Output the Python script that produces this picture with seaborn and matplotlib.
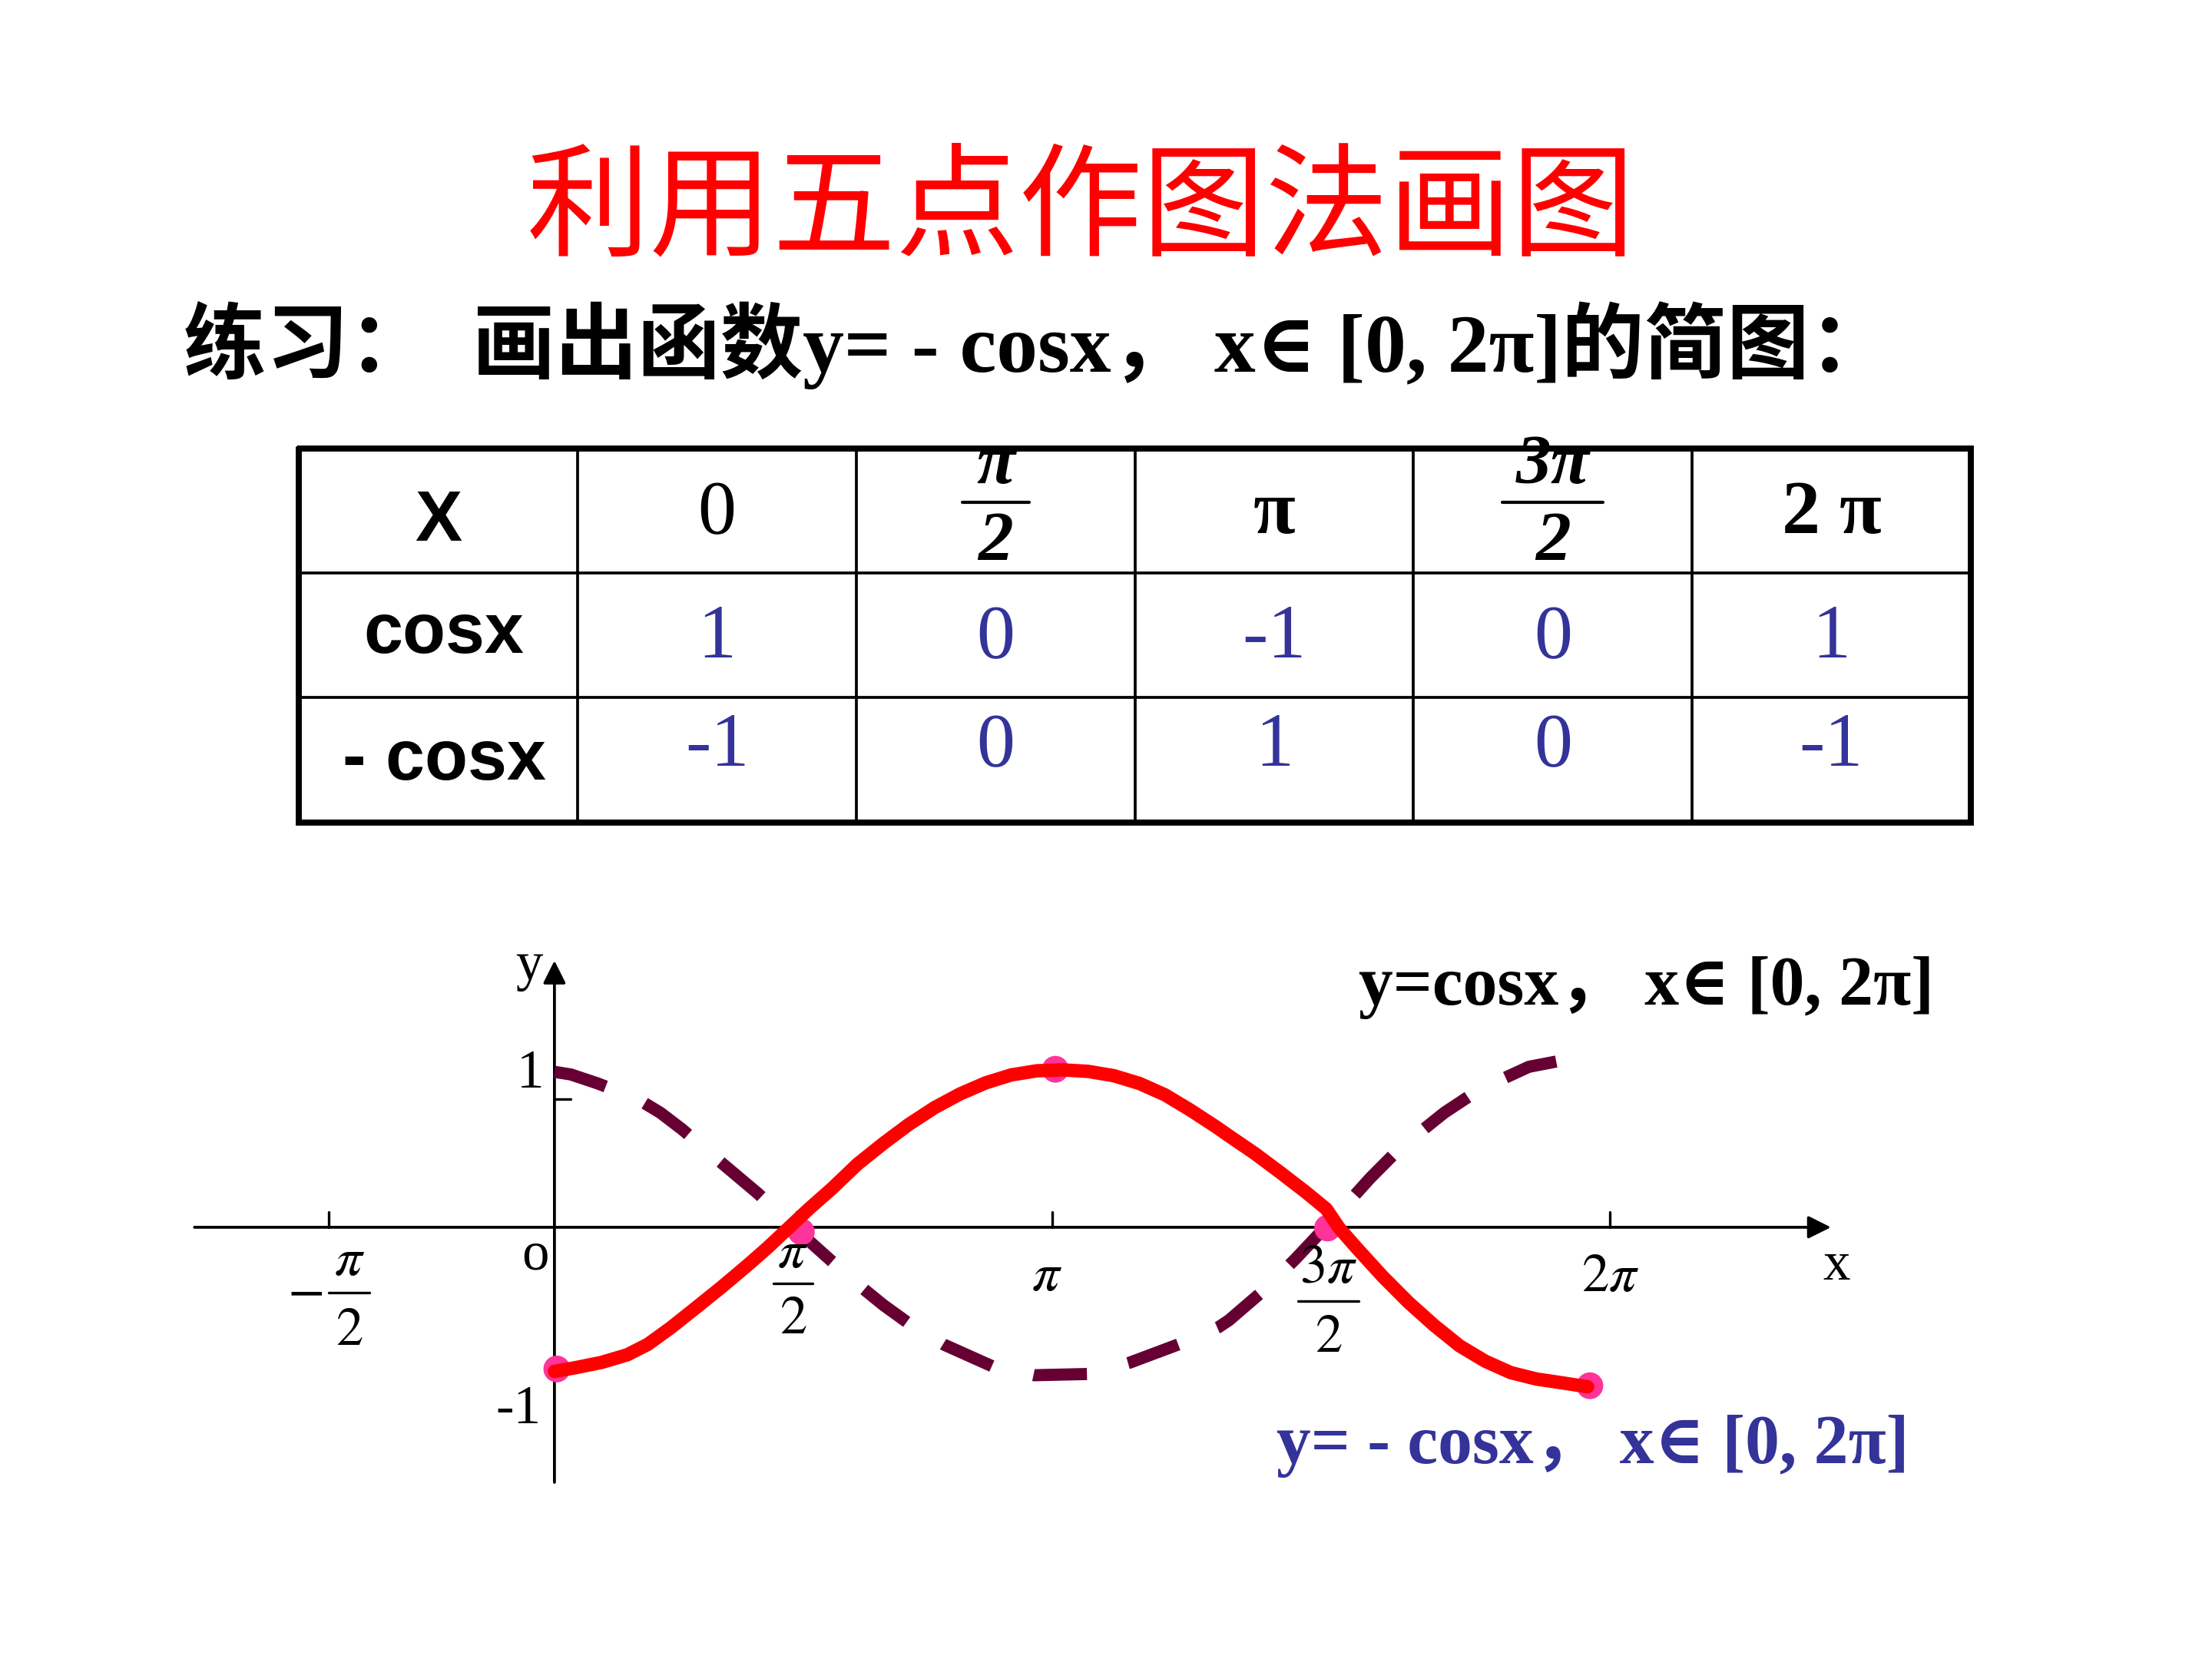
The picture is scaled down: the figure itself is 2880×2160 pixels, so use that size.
import matplotlib
matplotlib.use("Agg")
import matplotlib.pyplot as plt
import seaborn as sns

# five-point table
row_labels = ["X", "cosx", "- cosx"]
header_vals = ["0", ("π", "2"), "π", ("3π", "2"), "2 π"]
cos_vals = ["1", "0", "-1", "0", "1"]
neg_cos_vals = ["-1", "0", "1", "0", "-1"]

# hand drawn curves (x in rad)
cos_x = [0.0, 0.103, 0.273, 0.523, 0.669, 0.806, 1.024, 1.283, 1.605, 1.751, 1.944,
         2.074, 2.227, 2.454, 2.761, 3.026, 3.366, 3.632, 3.955, 4.189, 4.254, 4.480,
         4.674, 4.948, 5.142, 5.328, 5.611, 5.830, 6.145, 6.354, 6.48]
cos_y = [1.02, 1.003, 0.944, 0.843, 0.751, 0.642, 0.449, 0.222, -0.089, -0.225, -0.40,
         -0.51, -0.625, -0.769, -0.912, -0.971, -0.963, -0.887, -0.761, -0.655, -0.61, -0.408,
         -0.207, 0.096, 0.320, 0.515, 0.751, 0.902, 1.053, 1.095, 1.12]
neg_x = [0.0, 0.136, 0.297, 0.459, 0.588, 0.733, 0.895, 1.056, 1.218, 1.347, 1.476,
         1.605, 1.751, 1.912, 2.074, 2.235, 2.397, 2.558, 2.720, 2.881, 3.043, 3.204,
         3.366, 3.527, 3.689, 3.851, 4.012, 4.174, 4.254, 4.416, 4.577, 4.739, 4.868,
         4.949, 5.062, 5.224, 5.385, 5.547, 5.708, 5.870, 6.031, 6.193, 6.355, 6.516]
neg_y = [-0.946, -0.921, -0.887, -0.837, -0.769, -0.660, -0.526, -0.391, -0.249, -0.131, -0.005,
         0.121, 0.255, 0.415, 0.55, 0.675, 0.785, 0.875, 0.948, 1.0, 1.027, 1.033,
         1.023, 0.995, 0.944, 0.869, 0.768, 0.658, 0.600, 0.485, 0.36, 0.23, 0.12,
         -0.005, -0.139, -0.324, -0.492, -0.643, -0.778, -0.879, -0.954, -0.996, -1.021, -1.047]
key_x = [0.015, 1.557, 3.159, 4.876, 6.53]
key_y = [-0.93, -0.03, 1.037, -0.005, -1.04]

# x ticks (positions as drawn in the picture)
xtick_pos = [-1.424, 1.528, 3.139, 4.859, 6.655]

sns.set_theme(style="white")
plt.rcParams["mathtext.fontset"] = "stix"
plt.rcParams["text.color"] = "black"
CJK = ["Noto Sans CJK SC", "DejaVu Sans"]
SERIF = ["Liberation Serif", "DejaVu Serif", "Noto Sans CJK SC"]
SANS = ["Liberation Sans", "DejaVu Sans"]
plt.rcParams["font.family"] = SERIF

BLUE = "#333399"

fig = plt.figure(figsize=(9.6, 7.2), dpi=300)
fig.patch.set_facecolor("white")

fig.text(0.4885, 0.8725, "利用五点作图法画图", color="#FF0000", fontsize=38.5,
         ha="center", va="center", family=CJK)
fig.text(0.0829, 0.7917, "练习：  画出函数y= - cosx， x∈ [0, 2π]的简图：",
         fontsize=25.8, weight="bold", family=SERIF, ha="left", va="center")

# ---- table ----
tax = fig.add_axes([0.1352, 0.5043, 0.7557, 0.2253])
tax.set_xlim(0, 6)
tax.set_ylim(3, 0)
tax.axis("off")
for i in range(1, 6):
    tax.plot([i, i], [0, 3], color="black", lw=0.9, clip_on=False)
for j in range(1, 3):
    tax.plot([0, 6], [j, j], color="black", lw=0.9, clip_on=False)
tax.plot([0, 6, 6, 0, 0], [0, 0, 3, 3, 0], color="black", lw=1.9,
         solid_joinstyle="miter", clip_on=False)

tax.text(0.5, 0.59, row_labels[0], family=SANS, fontsize=22, weight="bold", ha="center", va="center")
tax.text(0.52, 1.49, row_labels[1], family=SANS, fontsize=22, weight="bold", ha="center", va="center")
tax.text(0.52, 2.51, row_labels[2], family=SANS, fontsize=22, weight="bold", ha="center", va="center")

for k, h in enumerate(header_vals):
    cx = k + 1.5
    if isinstance(h, tuple):
        num, den = h
        tax.text(cx, 0.14, num, family=SERIF, fontsize=22, weight="bold", style="italic",
                 ha="center", va="center")
        half = 0.12 if len(num) == 1 else 0.18
        tax.plot([cx - half, cx + half], [0.43, 0.43], color="black", lw=1.0)
        tax.text(cx, 0.76, den, family=SERIF, fontsize=22, weight="bold", style="italic",
                 ha="center", va="center")
    else:
        tax.text(cx, 0.53, h, family=SERIF, fontsize=24,
                 weight="normal" if h == "0" else "bold", ha="center", va="center")

for k in range(5):
    tax.text(k + 1.5, 1.53, cos_vals[k], family=SERIF, fontsize=24, color=BLUE,
             ha="center", va="center")
    tax.text(k + 1.5, 2.40, neg_cos_vals[k], family=SERIF, fontsize=24, color=BLUE,
             ha="center", va="center")

# ---- graph ----
ax = fig.add_axes([0.07653, 0.09014, 0.7653, 0.34864])
ax.set_xlim(-2.429, 8.247)
ax.set_ylim(-1.852, 1.944)
ax.axis("off")

ax.annotate("", xy=(8.05, 0), xytext=(-2.27, 0),
            arrowprops=dict(arrowstyle="-|>", lw=0.9, color="black", mutation_scale=15,
                            shrinkA=0, shrinkB=0))
ax.annotate("", xy=(0, 1.75), xytext=(0, -1.674),
            arrowprops=dict(arrowstyle="-|>", lw=0.9, color="black", mutation_scale=15,
                            shrinkA=0, shrinkB=0))
for xp in xtick_pos:
    ax.plot([xp, xp], [0, 0.1], color="black", lw=0.8)
ax.plot([0, 0.1], [0.84, 0.84], color="black", lw=0.8)

sns.lineplot(x=cos_x, y=cos_y, sort=False, estimator=None, color="#660033",
             lw=3.8, ax=ax, zorder=3)
ax.lines[-1].set_dashes((4.4, 3.5))
ax.lines[-1].set_dash_capstyle("butt")
ax.lines[-1].set_dash_joinstyle("round")

sns.scatterplot(x=key_x, y=key_y, color="#FF3399", s=70, edgecolor="none", ax=ax, zorder=4)

sns.lineplot(x=neg_x, y=neg_y, sort=False, estimator=None, color="#FF0000",
             lw=4.2, ax=ax, zorder=5)
ax.lines[-1].set_solid_capstyle("round")
ax.lines[-1].set_solid_joinstyle("round")

# tick labels: fractions built as numerator / bar / denominator
TS = 17
ax.text(-1.575, -0.43, "$-$", fontsize=TS, ha="center", va="center", zorder=6)
fracs = [(-1.295, r"$\pi$", -0.225, -0.43, -0.685, 0.13),
         (1.504, r"$\pi$", -0.173, -0.371, -0.61, 0.125),
         (4.88, r"$3\pi$", -0.274, -0.484, -0.727, 0.19)]
for cx, num, yn, yb, yd, hw in fracs:
    ax.text(cx, yn, num, fontsize=TS, ha="center", va="center", zorder=6)
    ax.plot([cx - hw, cx + hw], [yb, yb], color="black", lw=0.8, zorder=6)
    ax.text(cx, yd, "$2$", fontsize=TS, ha="center", va="center", zorder=6)
ax.text(3.107, -0.324, r"$\pi$", fontsize=TS, ha="center", va="center", zorder=6)
ax.text(6.66, -0.333, r"$2\pi$", fontsize=TS, ha="center", va="center", zorder=6)

ax.text(-0.119, -0.186, "o", fontsize=TS, ha="center", va="center")
ax.text(-0.15, 1.006, "1", fontsize=TS, ha="center", va="center")
ax.text(-0.227, -1.2, "-1", fontsize=TS, ha="center", va="center")
ax.text(-0.158, 1.711, "y", fontsize=TS, ha="center", va="center")
ax.text(8.085, -0.257, "x", fontsize=TS, ha="center", va="center")

ax.text(5.07, 1.574, "y=cosx， x∈ [0, 2π]", fontsize=21.5, weight="bold",
        family=SERIF, ha="left", va="center")
ax.text(4.555, -1.435, "y= - cosx， x∈ [0, 2π]", fontsize=21.5, weight="bold",
        family=SERIF, color=BLUE, ha="left", va="center")

fig.savefig("out.png", dpi=300, facecolor="white")
